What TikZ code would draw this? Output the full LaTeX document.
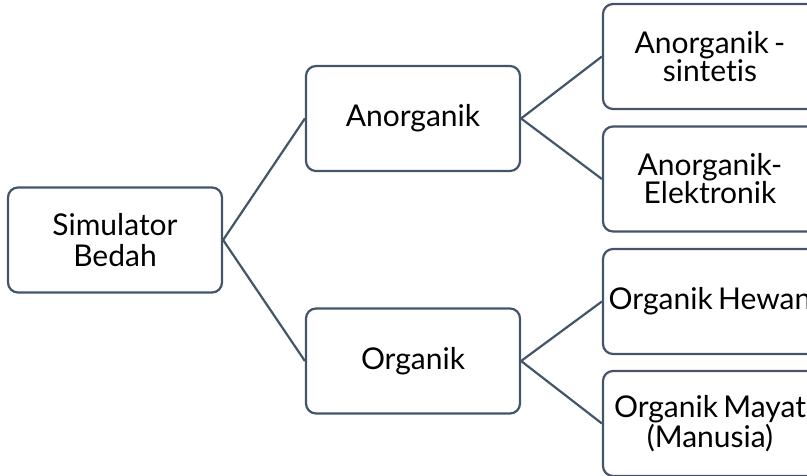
\documentclass[tikz,border=0pt]{standalone}
\usepackage{fontspec}
\setmainfont[Ligatures=NoCommon, WordSpace=0.7]{Lato}
\usetikzlibrary{positioning}

\begin{document}
\begin{tikzpicture}[x=1pt, y=1pt]

	\tikzstyle{kotak}=[draw=garis, rounded corners=10pt, line width=2.2pt, minimum width=214pt, minimum height=105pt, align=center, inner sep=2pt, font=\fontsize{30}{28}\selectfont]
	\tikzstyle{cabang}=[draw=garis, line width=2.2pt]
	\definecolor{garis}{HTML}{44546A}

	\clip (0, 0) rectangle (807, -476);

	\coordinate (n_1_1) at (115, -240); % AKAR
	\coordinate (n_2_1) at (413, -118.5); % TINGKAT 2
	\coordinate (n_2_2) at (413, -361); % TINGKAT 2
	\coordinate (n_3_1) at (710, -56.5); % TINGKAT 3
	\coordinate (n_3_2) at (710, -179); % TINGKAT 3
	\coordinate (n_3_3) at (710, -301.5); % TINGKAT 3
	\coordinate (n_3_4) at (710, -423.5); % TINGKAT 3

	\node[kotak] (n_1_1) at (n_1_1) {Simulator\\[3pt]Bedah}; % AKAR
	\node[kotak] (n_2_1) at (n_2_1) {Anorganik}; % TINGKAT 2
	\node[kotak] (n_2_2) at (n_2_2) {Organik}; % TINGKAT 2
	\node[kotak] (n_3_1) at (n_3_1) {Anorganik -\\sintetis}; % TINGKAT 3
	\node[kotak] (n_3_2) at (n_3_2) {Anorganik-\\Elektronik}; % TINGKAT 3
	\node[kotak] (n_3_3) at (n_3_3) {Organik Hewan}; % TINGKAT 3
	\node[kotak] (n_3_4) at (n_3_4) {Organik Mayat\\(Manusia)}; % TINGKAT 3

	\draw[cabang] (n_1_1.east) -- (n_2_1.west);
	\draw[cabang] (n_1_1.east) -- (n_2_2.west);
	\draw[cabang] (n_2_1.east) -- (n_3_1.west);
	\draw[cabang] (n_2_1.east) -- (n_3_2.west);
	\draw[cabang] (n_2_2.east) -- (n_3_3.west);
	\draw[cabang] (n_2_2.east) -- (n_3_4.west);

\end{tikzpicture}
\end{document}
